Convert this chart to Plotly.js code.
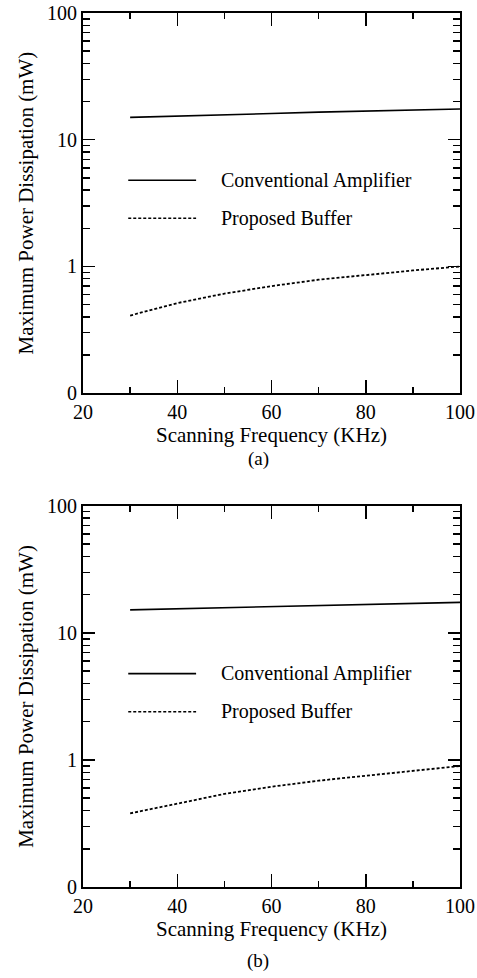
<!DOCTYPE html>
<html>
<head>
<meta charset="utf-8">
<script src="https://cdn.plot.ly/plotly-3.0.1.min.js"></script>
<style>html,body{margin:0;padding:0;background:#fff;}#chart{width:477px;height:978px;}</style>
</head>
<body>
<div id="chart"></div>
<script>
// Data
const freq = [30, 40, 50, 60, 70, 80, 90, 100];
const convA = [15.0, 15.3, 15.7, 16.1, 16.5, 16.9, 17.2, 17.5];
const propA = [0.41, 0.514, 0.61, 0.70, 0.786, 0.86, 0.93, 1.0];
const convB = [15.2, 15.5, 15.8, 16.2, 16.6, 16.9, 17.2, 17.4];
const propB = [0.38, 0.456, 0.54, 0.616, 0.687, 0.752, 0.824, 0.895];
const seriesNames = ["Conventional Amplifier", "Proposed Buffer"];
const xTicks = [20, 40, 60, 80, 100];
const xMinor = [30, 50, 70, 90];
const yTicks = [0.1, 1, 10, 100];
const yTickText = ["0", "1", "10", "100"];
const panelLabels = ["(a)", "(b)"];
const xTitle = "Scanning Frequency (KHz)";
const yTitle = "Maximum Power Dissipation (mW)";

const yMinor = [];
[0.1, 1, 10].forEach(d => { for (let k = 2; k <= 9; k++) yMinor.push(+(d * k).toFixed(3)); });

const FONT = "Liberation Serif, Times New Roman, serif";
const solid = {color: "#000", width: 1.6};
const dashed = {color: "#000", width: 1.8, dash: "3px,2px"};

const traces = [
  {x: freq, y: convA, mode: "lines", line: solid, name: seriesNames[0], xaxis: "x", yaxis: "y", showlegend: false},
  {x: freq, y: propA, mode: "lines", line: dashed, name: seriesNames[1], xaxis: "x", yaxis: "y", showlegend: false},
  {x: freq, y: convB, mode: "lines", line: solid, name: seriesNames[0], xaxis: "x2", yaxis: "y2", showlegend: false},
  {x: freq, y: propB, mode: "lines", line: dashed, name: seriesNames[1], xaxis: "x2", yaxis: "y2", showlegend: false}
];

function xAxis(anchor) {
  return {
    anchor: anchor, range: [20, 100], tickmode: "array", tickvals: xTicks,
    ticks: "inside", ticklen: 13, tickwidth: 1.5, tickcolor: "#000",
    minor: {tickmode: "array", tickvals: xMinor, ticks: "inside", ticklen: 6, tickwidth: 1.5, tickcolor: "#000"},
    showline: true, linecolor: "#000", linewidth: 2, mirror: "ticks",
    showgrid: false, zeroline: false,
    tickfont: {family: FONT, size: 20, color: "#000"},
    title: {text: xTitle, font: {family: FONT, size: 21, color: "#000"}, standoff: 0}
  };
}
function yAxis(anchor, domain) {
  return {
    anchor: anchor, domain: domain, type: "log", range: [-1, 2],
    tickmode: "array", tickvals: yTicks, ticktext: yTickText,
    ticks: "inside", ticklen: 12, tickwidth: 1.5, tickcolor: "#000",
    minor: {tickmode: "array", tickvals: yMinor, ticks: "inside", ticklen: 7, tickwidth: 1.5, tickcolor: "#000"},
    showline: true, linecolor: "#000", linewidth: 2, mirror: "ticks",
    showgrid: false, zeroline: false,
    tickfont: {family: FONT, size: 20, color: "#000"},
    title: {text: yTitle, font: {family: FONT, size: 21, color: "#000"}, standoff: 8}
  };
}

const topDom = [0.565, 1];
const botDom = [0, 0.436];

// legend keys (placed relative to each panel)
function legendItems(xa, dom) {
  const h = dom[1] - dom[0];
  const yC = dom[0] + h * 0.56, yP = dom[0] + h * 0.46;
  const shapes = [
    {type: "line", xref: xa + " domain", yref: "paper", x0: 0.12, x1: 0.30, y0: yC, y1: yC, line: solid},
    {type: "line", xref: xa + " domain", yref: "paper", x0: 0.12, x1: 0.30, y0: yP, y1: yP, line: {color: "#000", width: 1.4, dash: "3px,2px"}}
  ];
  const ann = [
    {xref: xa + " domain", yref: "paper", x: 0.36, y: yC, xanchor: "left", yanchor: "middle", showarrow: false, text: seriesNames[0], font: {family: FONT, size: 20, color: "#000"}},
    {xref: xa + " domain", yref: "paper", x: 0.36, y: yP, xanchor: "left", yanchor: "middle", showarrow: false, text: seriesNames[1], font: {family: FONT, size: 20, color: "#000"}}
  ];
  return {shapes, ann};
}
const la = legendItems("x", topDom);
const lb = legendItems("x2", botDom);

const layout = {
  width: 477, height: 978,
  margin: {l: 83, r: 17, t: 13, b: 91},
  paper_bgcolor: "#fff", plot_bgcolor: "#fff",
  showlegend: false,
  xaxis: xAxis("y"), yaxis: yAxis("x", topDom),
  xaxis2: xAxis("y2"), yaxis2: yAxis("x2", botDom),
  shapes: la.shapes.concat(lb.shapes),
  annotations: la.ann.concat(lb.ann).concat([
    {xref: "paper", yref: "paper", x: 0.465, y: 0.49, xanchor: "center", yanchor: "middle", showarrow: false, text: panelLabels[0], font: {family: FONT, size: 19, color: "#000"}},
    {xref: "paper", yref: "paper", x: 0.465, y: -0.085, xanchor: "center", yanchor: "middle", showarrow: false, text: panelLabels[1], font: {family: FONT, size: 19, color: "#000"}}
  ])
};

Plotly.newPlot("chart", traces, layout, {displayModeBar: false, staticPlot: true});
</script>
</body>
</html>
